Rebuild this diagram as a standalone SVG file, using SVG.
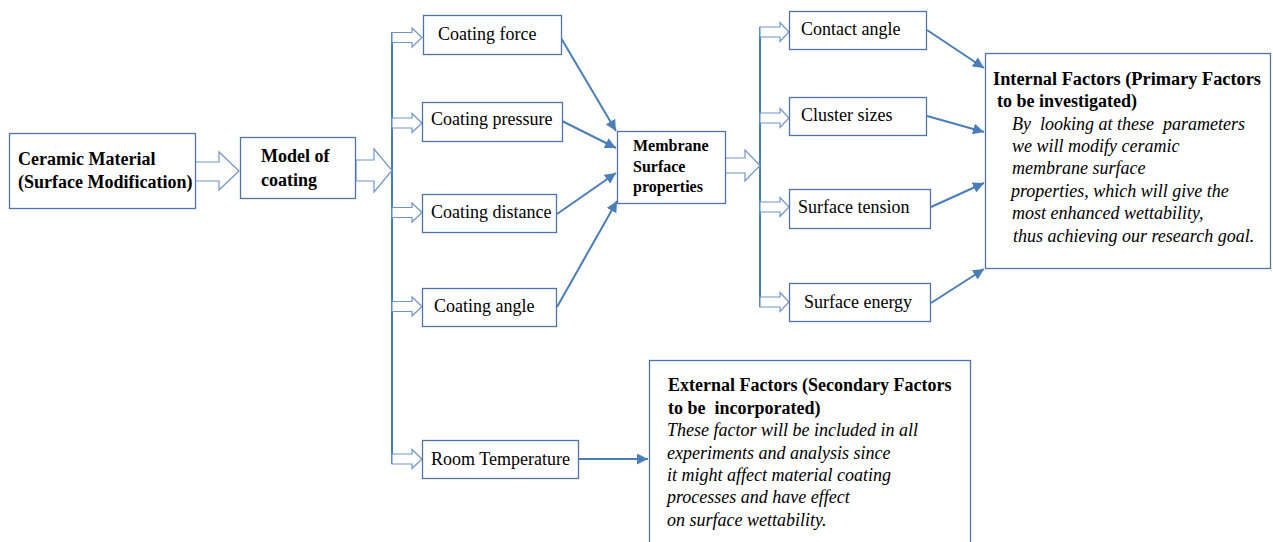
<svg xmlns="http://www.w3.org/2000/svg" width="1273" height="542" viewBox="0 0 1273 542">
<defs>
<style>
.box{fill:#fff;stroke:#4f73ad;stroke-width:1.3}
.blk{fill:#fff;stroke:#7394c9;stroke-width:1.2;stroke-linejoin:miter}
.con{fill:none;stroke:#4a7ebb;stroke-width:2}
.vl{fill:none;stroke:#4a7ebb;stroke-width:2}
.t{font-family:"Liberation Serif","Times New Roman",serif;font-size:18px;fill:#000}
.b{font-weight:bold}
.i{font-style:italic}
.s16{font-size:16px}
.pre{white-space:pre}
</style>
<marker id="ah" viewBox="0 0 10 10" refX="10" refY="5" markerWidth="5.5" markerHeight="5.5" orient="auto" markerUnits="strokeWidth">
<path d="M0,0 L10,5 L0,10 z" fill="#4a7ebb"/>
</marker>
</defs>
<rect width="1273" height="542" fill="#fff"/>

<g id="connectors">
<line class="vl" x1="392" y1="32" x2="392" y2="464"/>
<line class="vl" x1="760" y1="27" x2="760" y2="307"/>
<polygon class="blk" points="195,162 219,162 219,152 239,171 219,190 219,181 195,181"/>
<polygon class="blk" points="356,160 374,160 374,149 392,170.5 374,192 374,181 356,181"/>
<polygon class="blk" points="725,158 745,158 745,150 760,165.5 745,181 745,173 725,173"/>
<polygon class="blk" points="392,32.5 412,32.5 412,28 422,37.5 412,47 412,42.5 392,42.5"/>
<polygon class="blk" points="392,118 412,118 412,113.5 422,123 412,132.5 412,128 392,128"/>
<polygon class="blk" points="392,207.5 412,207.5 412,203 422,212.5 412,222 412,217.5 392,217.5"/>
<polygon class="blk" points="392,301.5 412,301.5 412,297 422,306.5 412,316 412,311.5 392,311.5"/>
<polygon class="blk" points="392,454 412,454 412,449.5 422,459 412,468.5 412,464 392,464"/>
<polygon class="blk" points="760,27 780,27 780,22.5 789,32 780,41.5 780,37 760,37"/>
<polygon class="blk" points="760,113 780,113 780,108.5 789,118 780,127.5 780,123 760,123"/>
<polygon class="blk" points="760,202 780,202 780,197.5 789,207 780,216.5 780,212 760,212"/>
<polygon class="blk" points="760,297 780,297 780,292.5 789,302 780,311.5 780,307 760,307"/>
<line class="con" x1="561" y1="38" x2="616" y2="131" marker-end="url(#ah)"/>
<line class="con" x1="562" y1="121" x2="616" y2="148" marker-end="url(#ah)"/>
<line class="con" x1="557" y1="214" x2="616" y2="173" marker-end="url(#ah)"/>
<line class="con" x1="557" y1="307" x2="617" y2="201" marker-end="url(#ah)"/>
<line class="con" x1="927" y1="30" x2="984" y2="68" marker-end="url(#ah)"/>
<line class="con" x1="927" y1="116" x2="984" y2="132" marker-end="url(#ah)"/>
<line class="con" x1="931" y1="207" x2="984" y2="183" marker-end="url(#ah)"/>
<line class="con" x1="931" y1="303" x2="984" y2="269" marker-end="url(#ah)"/>
<line class="con" x1="579" y1="459" x2="648" y2="459" marker-end="url(#ah)"/>
</g>

<g id="ceramic">
<rect class="box" x="9.5" y="133.5" width="186" height="75"/>
<text class="t b" x="18" y="165">Ceramic Material</text>
<text class="t b" x="18" y="188">(Surface Modification)</text>
</g>
<g id="model">
<rect class="box" x="240.5" y="137.5" width="115" height="61"/>
<text class="t b" x="261" y="162">Model of</text>
<text class="t b" x="261" y="186">coating</text>
</g>
<g id="coating-force">
<rect class="box" x="423.5" y="15.5" width="138" height="39"/>
<text class="t" x="438" y="40">Coating force</text>
</g>
<g id="coating-pressure">
<rect class="box" x="422.5" y="102.5" width="140" height="39"/>
<text class="t" x="431" y="125">Coating pressure</text>
</g>
<g id="coating-distance">
<rect class="box" x="422.5" y="194.5" width="134" height="38"/>
<text class="t" x="431" y="218">Coating distance</text>
</g>
<g id="coating-angle">
<rect class="box" x="422.5" y="288.5" width="134" height="38"/>
<text class="t" x="434" y="312">Coating angle</text>
</g>
<g id="room-temperature">
<rect class="box" x="422.5" y="440.5" width="156" height="38"/>
<text class="t" x="431" y="465">Room Temperature</text>
</g>
<g id="membrane">
<rect class="box" x="617.5" y="131.5" width="108" height="72"/>
<text class="t b s16" x="633" y="151">Membrane</text>
<text class="t b s16" x="633" y="172">Surface</text>
<text class="t b s16" x="633" y="192">properties</text>
</g>
<g id="contact-angle">
<rect class="box" x="789.5" y="11.5" width="137" height="38"/>
<text class="t" x="801" y="35">Contact angle</text>
</g>
<g id="cluster-sizes">
<rect class="box" x="789.5" y="97.5" width="137" height="38"/>
<text class="t" x="801" y="121">Cluster sizes</text>
</g>
<g id="surface-tension">
<rect class="box" x="789.5" y="189.5" width="141" height="39"/>
<text class="t" x="798" y="213">Surface tension</text>
</g>
<g id="surface-energy">
<rect class="box" x="789.5" y="283.5" width="141" height="38"/>
<text class="t" x="804" y="308">Surface energy</text>
</g>
<g id="internal-factors">
<rect class="box" x="985.5" y="53.5" width="285" height="215"/>
<text class="t b" x="993" y="85" textLength="268" lengthAdjust="spacingAndGlyphs">Internal Factors (Primary Factors</text>
<text class="t b" x="997" y="107">to be investigated)</text>
<text class="t i pre" x="1012" y="130" xml:space="preserve">By  looking at these  parameters</text>
<text class="t i" x="1012" y="152">we will modify ceramic</text>
<text class="t i" x="1012" y="174">membrane surface</text>
<text class="t i" x="1011" y="197">properties, which will give the</text>
<text class="t i" x="1012" y="219">most enhanced wettability,</text>
<text class="t i" x="1013" y="242">thus achieving our research goal.</text>
</g>
<g id="external-factors">
<rect class="box" x="649.5" y="360.5" width="321" height="190"/>
<text class="t b" x="668" y="391">External Factors (Secondary Factors</text>
<text class="t b pre" x="668" y="414" xml:space="preserve">to be  incorporated)</text>
<text class="t i" x="667" y="436">These factor will be included in all</text>
<text class="t i" x="667" y="459">experiments and analysis since</text>
<text class="t i" x="667" y="481">it might affect material coating</text>
<text class="t i" x="667" y="503">processes and have effect</text>
<text class="t i" x="667" y="526">on surface wettability.</text>
</g>
</svg>
